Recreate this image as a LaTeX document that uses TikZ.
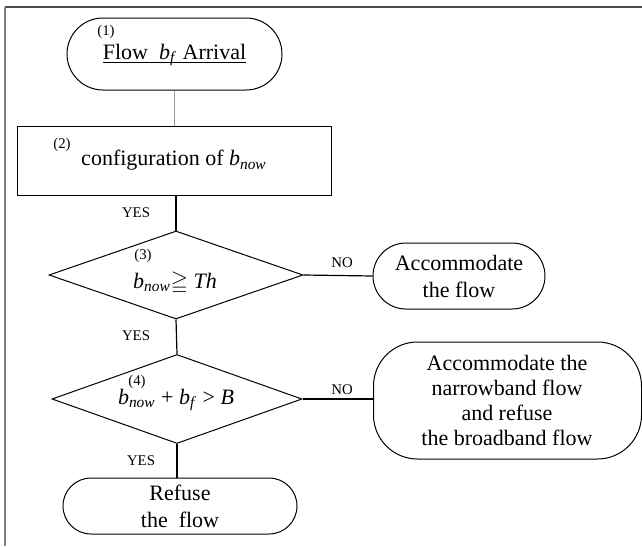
\documentclass[tikz,border=0pt]{standalone}
\usepackage{amsmath,amssymb}
\usepackage{fontspec}
\setmainfont{Liberation Serif}
\usepackage{tikz}
\usetikzlibrary{shapes.geometric, positioning}

\tikzset{
  stadium/.style={draw, inner sep=0pt, align=center, font=\fontsize{11}{13.5}\selectfont},
  procbox/.style={draw, inner sep=0pt, align=center, font=\fontsize{11}{13}\selectfont},
  decision/.style={draw, diamond, inner sep=0pt},
  bodytext/.style={inner sep=0pt, align=center, font=\fontsize{11}{12.5}\selectfont},
  tag/.style={inner sep=0pt, font=\fontsize{7.4}{8}\selectfont},
  flowline/.style={line width=0.6pt}
}
\newcommand{\bnow}{\textit{b}\textsubscript{\textit{now}}}

\begin{document}
\begin{tikzpicture}[x=0.5pt, y=-0.5pt, line width=0.5pt]
\useasboundingbox (0,0) rectangle (642,546);
% Frame
\draw[black!70, line width=1pt] (5,7) -- (642,7);
\draw[black!50, line width=0.8pt] (5,7) -- (5,546);

% Boxes
\node[stadium, minimum width=107.5pt, minimum height=36pt, rounded corners=18pt] (arrive) at (174.5,54)
  {\underline{Flow\ \ \textit{b}\smash{\textsubscript{\textit{f}}} Arrival}};
\node[procbox, minimum width=157pt, minimum height=34.5pt] (config) at (174,160.5)
  {configuration of \bnow};
\node[decision, minimum width=127pt, minimum height=44pt] (thr) at (176,275) {};
\node[stadium, minimum width=86pt, minimum height=33pt, rounded corners=16.5pt] (acc) at (459,276)
  {Accommodate\\the flow};
\node[decision, minimum width=125pt, minimum height=44.5pt] (chk) at (177,399) {};
\node[stadium, minimum width=134pt, minimum height=58.5pt, rounded corners=22pt] (partial) at (507.5,400.5) {};
\node[stadium, minimum width=117pt, minimum height=28pt, rounded corners=14pt] (refuse) at (180,506)
  {Refuse\\the\ \ flow};

% Texts
\node[tag] (t1) at (106,32) {(1)};
\node[tag] (t2) at (62,145) {(2)};
\node[tag] (t3) at (143,256) {(3)};
\node[tag] (t4) at (137,382) {(4)};
\node[bodytext] (thrtxt) at (175,283) {\bnow$\geqq$ \textit{Th}};
\node[bodytext] (chktxt) at (176,400) {\bnow\ + \textit{b}\textsubscript{\textit{f}} > \textit{B}};
\node[bodytext] (partialtxt) at (507,400)
  {Accommodate the\\narrowband flow\\and refuse\\the broadband flow};

% Connectors
\draw[black!40] (arrive) -- (arrive |- config.north);
\draw[flowline] (thr.north |- config.south) -- (thr.north);
\draw[flowline] (thr.east) -- (acc.west);
\draw[flowline] (thr.south) -- (chk.north);
\draw[flowline] (chk.east) -- (chk.east -| partial.west);
\draw[flowline] (chk.south) -- (chk.south |- refuse.north);

% Branch labels
\node[tag] (y1) at (136,213) {YES};
\node[tag] (y2) at (136,336) {YES};
\node[tag] (y3) at (141,461) {YES};
\node[tag] (n1) at (342,263) {NO};
\node[tag] (n2) at (342,390) {NO};
\end{tikzpicture}
\end{document}
